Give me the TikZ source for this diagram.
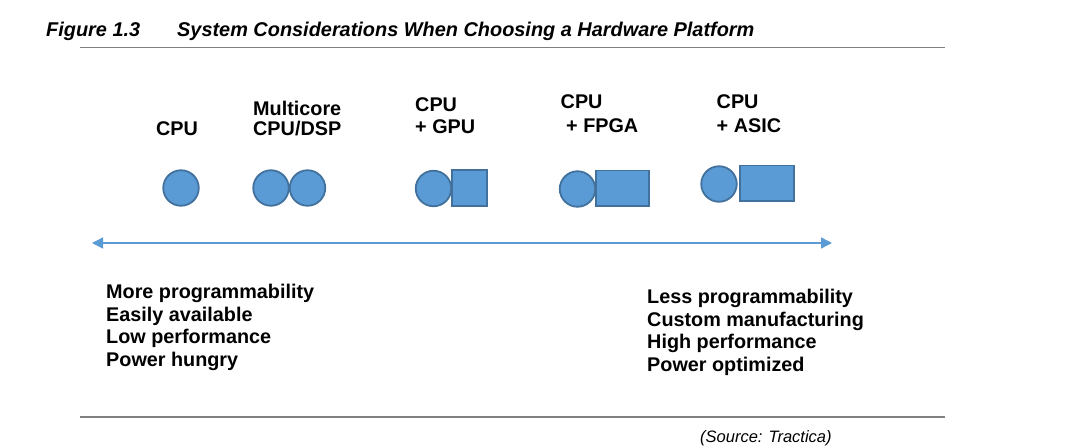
\documentclass[tikz,border=0pt]{standalone}
\usepackage{fontspec}
\setmainfont{Liberation Sans}
\usetikzlibrary{arrows.meta}
\definecolor{shapefill}{HTML}{5B9BD5}
\definecolor{shapeline}{HTML}{41719C}
\definecolor{rulegray}{HTML}{808080}
\tikzset{
  lbl/.style={anchor=base west, inner sep=0pt, font=\fontsize{19.8}{23}\selectfont\bfseries},
  ttl/.style={anchor=base west, inner sep=0pt, font=\fontsize{19.9}{23}\selectfont\bfseries\itshape},
  src/.style={anchor=base west, inner sep=0pt, font=\fontsize{16.5}{19}\selectfont\itshape},
  core/.style={circle, draw=shapeline, fill=shapefill, line width=1.8pt, minimum size=35.5pt, inner sep=0pt},
  accel/.style={rectangle, draw=shapeline, fill=shapefill, line width=1.8pt, inner sep=0pt},
  hrule/.style={draw=rulegray, line width=1.8pt},
  axis/.style={draw=shapefill, line width=1.3pt, {Triangle[length=11pt,width=11pt]}-{Triangle[length=11pt,width=11pt]}}
}
\begin{document}
\begin{tikzpicture}[x=1pt,y=-1pt]
\useasboundingbox (0,0) rectangle (1076,447);
% title
\node[ttl] (fig) at (46,36.7) {Figure 1.3};
\node[ttl] (title) at (177,36.7) {System Considerations When Choosing a Hardware Platform};
\coordinate (r1a) at (80,47.5);
\coordinate (r1b) at (945,47.5);
\draw[hrule] (r1a) -- (r1b);
% labels
\node[lbl] (t1) at (156,135) {CPU};
\node[lbl] (t2a) at (253,115) {Multicore};
\node[lbl] (t2b) at (253,135) {CPU/DSP};
\node[lbl] (t3a) at (415,111.5) {CPU};
\node[lbl] (t3b) at (415,133.5) {+ GPU};
\node[lbl] (t4a) at (560.5,108) {CPU};
\node[lbl] (t4b) at (566,132.5) {+ FPGA};
\node[lbl] (t5a) at (716.5,108) {CPU};
\node[lbl] (t5b) at (716.5,132) {+ ASIC};
% shapes
\node[core] (c1) at (181,188) {};
\node[core] (m1) at (271,188) {};
\node[core] (m2) at (307.5,188) {};
\node[core] (g1) at (433.5,188.5) {};
\node[accel, minimum width=35.5pt, minimum height=36.5pt] (g2) at (469.5,188) {};
\node[core] (f1) at (577.5,189) {};
\node[accel, minimum width=53.5pt, minimum height=35.5pt] (f2) at (622.5,188.3) {};
\node[core] (a1) at (719,184) {};
\node[accel, minimum width=54.5pt, minimum height=35.5pt] (a2) at (767,183.2) {};
% axis
\coordinate (axl) at (92,243);
\coordinate (axr) at (832,243);
\draw[axis] (axl) -- (axr);
% left texts
\node[lbl] (l1) at (106,298.5) {More programmability};
\node[lbl] (l2) at (106,321) {Easily available};
\node[lbl] (l3) at (106,343.7) {Low performance};
\node[lbl] (l4) at (106,366.4) {Power hungry};
% right texts
\node[lbl] (r1) at (647,303.5) {Less programmability};
\node[lbl] (r2) at (647,326) {Custom manufacturing};
\node[lbl] (r3) at (647,348.7) {High performance};
\node[lbl] (r4) at (647,371.4) {Power optimized};
% bottom rule and source
\coordinate (r2a) at (80,417);
\coordinate (r2b) at (945,417);
\draw[hrule] (r2a) -- (r2b);
\node[src] (source) at (700,442.5) {(Source: Tractica)};
\end{tikzpicture}
\end{document}
